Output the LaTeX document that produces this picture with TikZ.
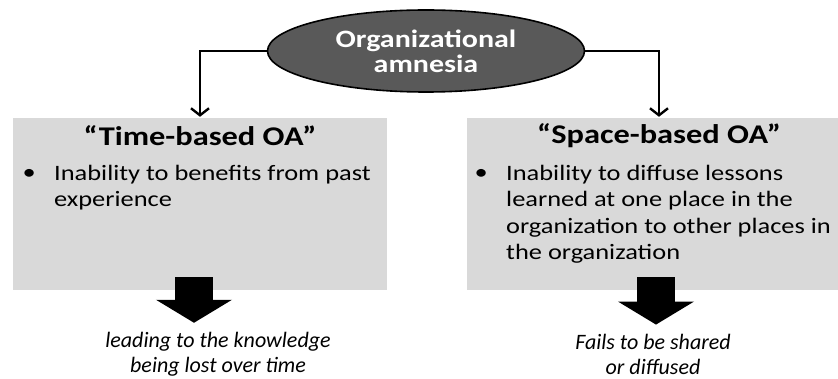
\documentclass[tikz,border=0pt]{standalone}
\usepackage{fontspec}
\setmainfont{Carlito}[FakeStretch=1.2]
\newfontfamily\resfont{Carlito}
\usetikzlibrary{arrows.meta,positioning,shapes.geometric}

\begin{document}
\begin{tikzpicture}[x=1pt,y=1pt,>={Straight Barb[length=7pt,width=18pt]},line width=2.4pt,
  amn/.style={ellipse,draw=black,line width=1.6pt,fill=black!65,text=white,align=center,
    font=\fontsize{25}{25}\selectfont\bfseries,minimum width=317pt,minimum height=82pt,inner sep=0pt},
  kind/.style={rectangle,fill=black!15,minimum width=374pt,minimum height=172pt,inner sep=0pt},
  head/.style={font=\fontsize{27}{30}\selectfont\bfseries,inner sep=0pt},
  body/.style={font=\fontsize{22}{26.5}\selectfont,align=left,anchor=north west,inner sep=0pt},
  dot/.style={font=\fontsize{22}{26.5}\selectfont,anchor=east,inner sep=0pt},
  res/.style={font=\resfont\fontsize{22}{25}\selectfont\itshape,align=center,inner sep=0pt},
  fat/.style={line width=38pt,-{Triangle[length=23pt,width=75pt]}}]

\useasboundingbox (0,0) rectangle (838,378);

\node[amn]  (oa)   at (426,327)  {Organizational\\amnesia};
\node[kind] (tb)   at (200,174)  {};
\node[kind,minimum width=372pt] (sb) at (653,174) {};

\node[head] (tbh)  at (200,242)  {“Time-based OA”};
\node[head] (sbh)  at (659,242)  {“Space-based OA”};

\node[body] (tbt)  at (53,214)   {Inability to benefits from past\\experience};
\node[dot]         at ([xshift=-16pt,yshift=-10pt]tbt.north west) {\textbullet};
\node[body] (sbt)  at (505,214)  {Inability to diffuse lessons\\learned at one place in the\\organization to other places in\\the organization};
\node[dot]         at ([xshift=-16pt,yshift=-10pt]sbt.north west) {\textbullet};

\node[res]  (tres) at (218,24)   {leading to the knowledge\\being lost over time};
\node[res]  (sres) at (653,24)   {Fails to be shared\\or diffused};

\draw[->] (oa.west) -| (tb.north);
\draw[->] (oa.east) -| ([xshift=6pt]sb.north);

\draw[fat] ([xshift=-6pt,yshift=14pt]tb.south) -- ([xshift=-24pt,yshift=8pt]tres.north);
\draw[fat] ([xshift=3pt,yshift=14pt]sb.south) -- ([xshift=3pt,yshift=8pt]sres.north);

\end{tikzpicture}
\end{document}
